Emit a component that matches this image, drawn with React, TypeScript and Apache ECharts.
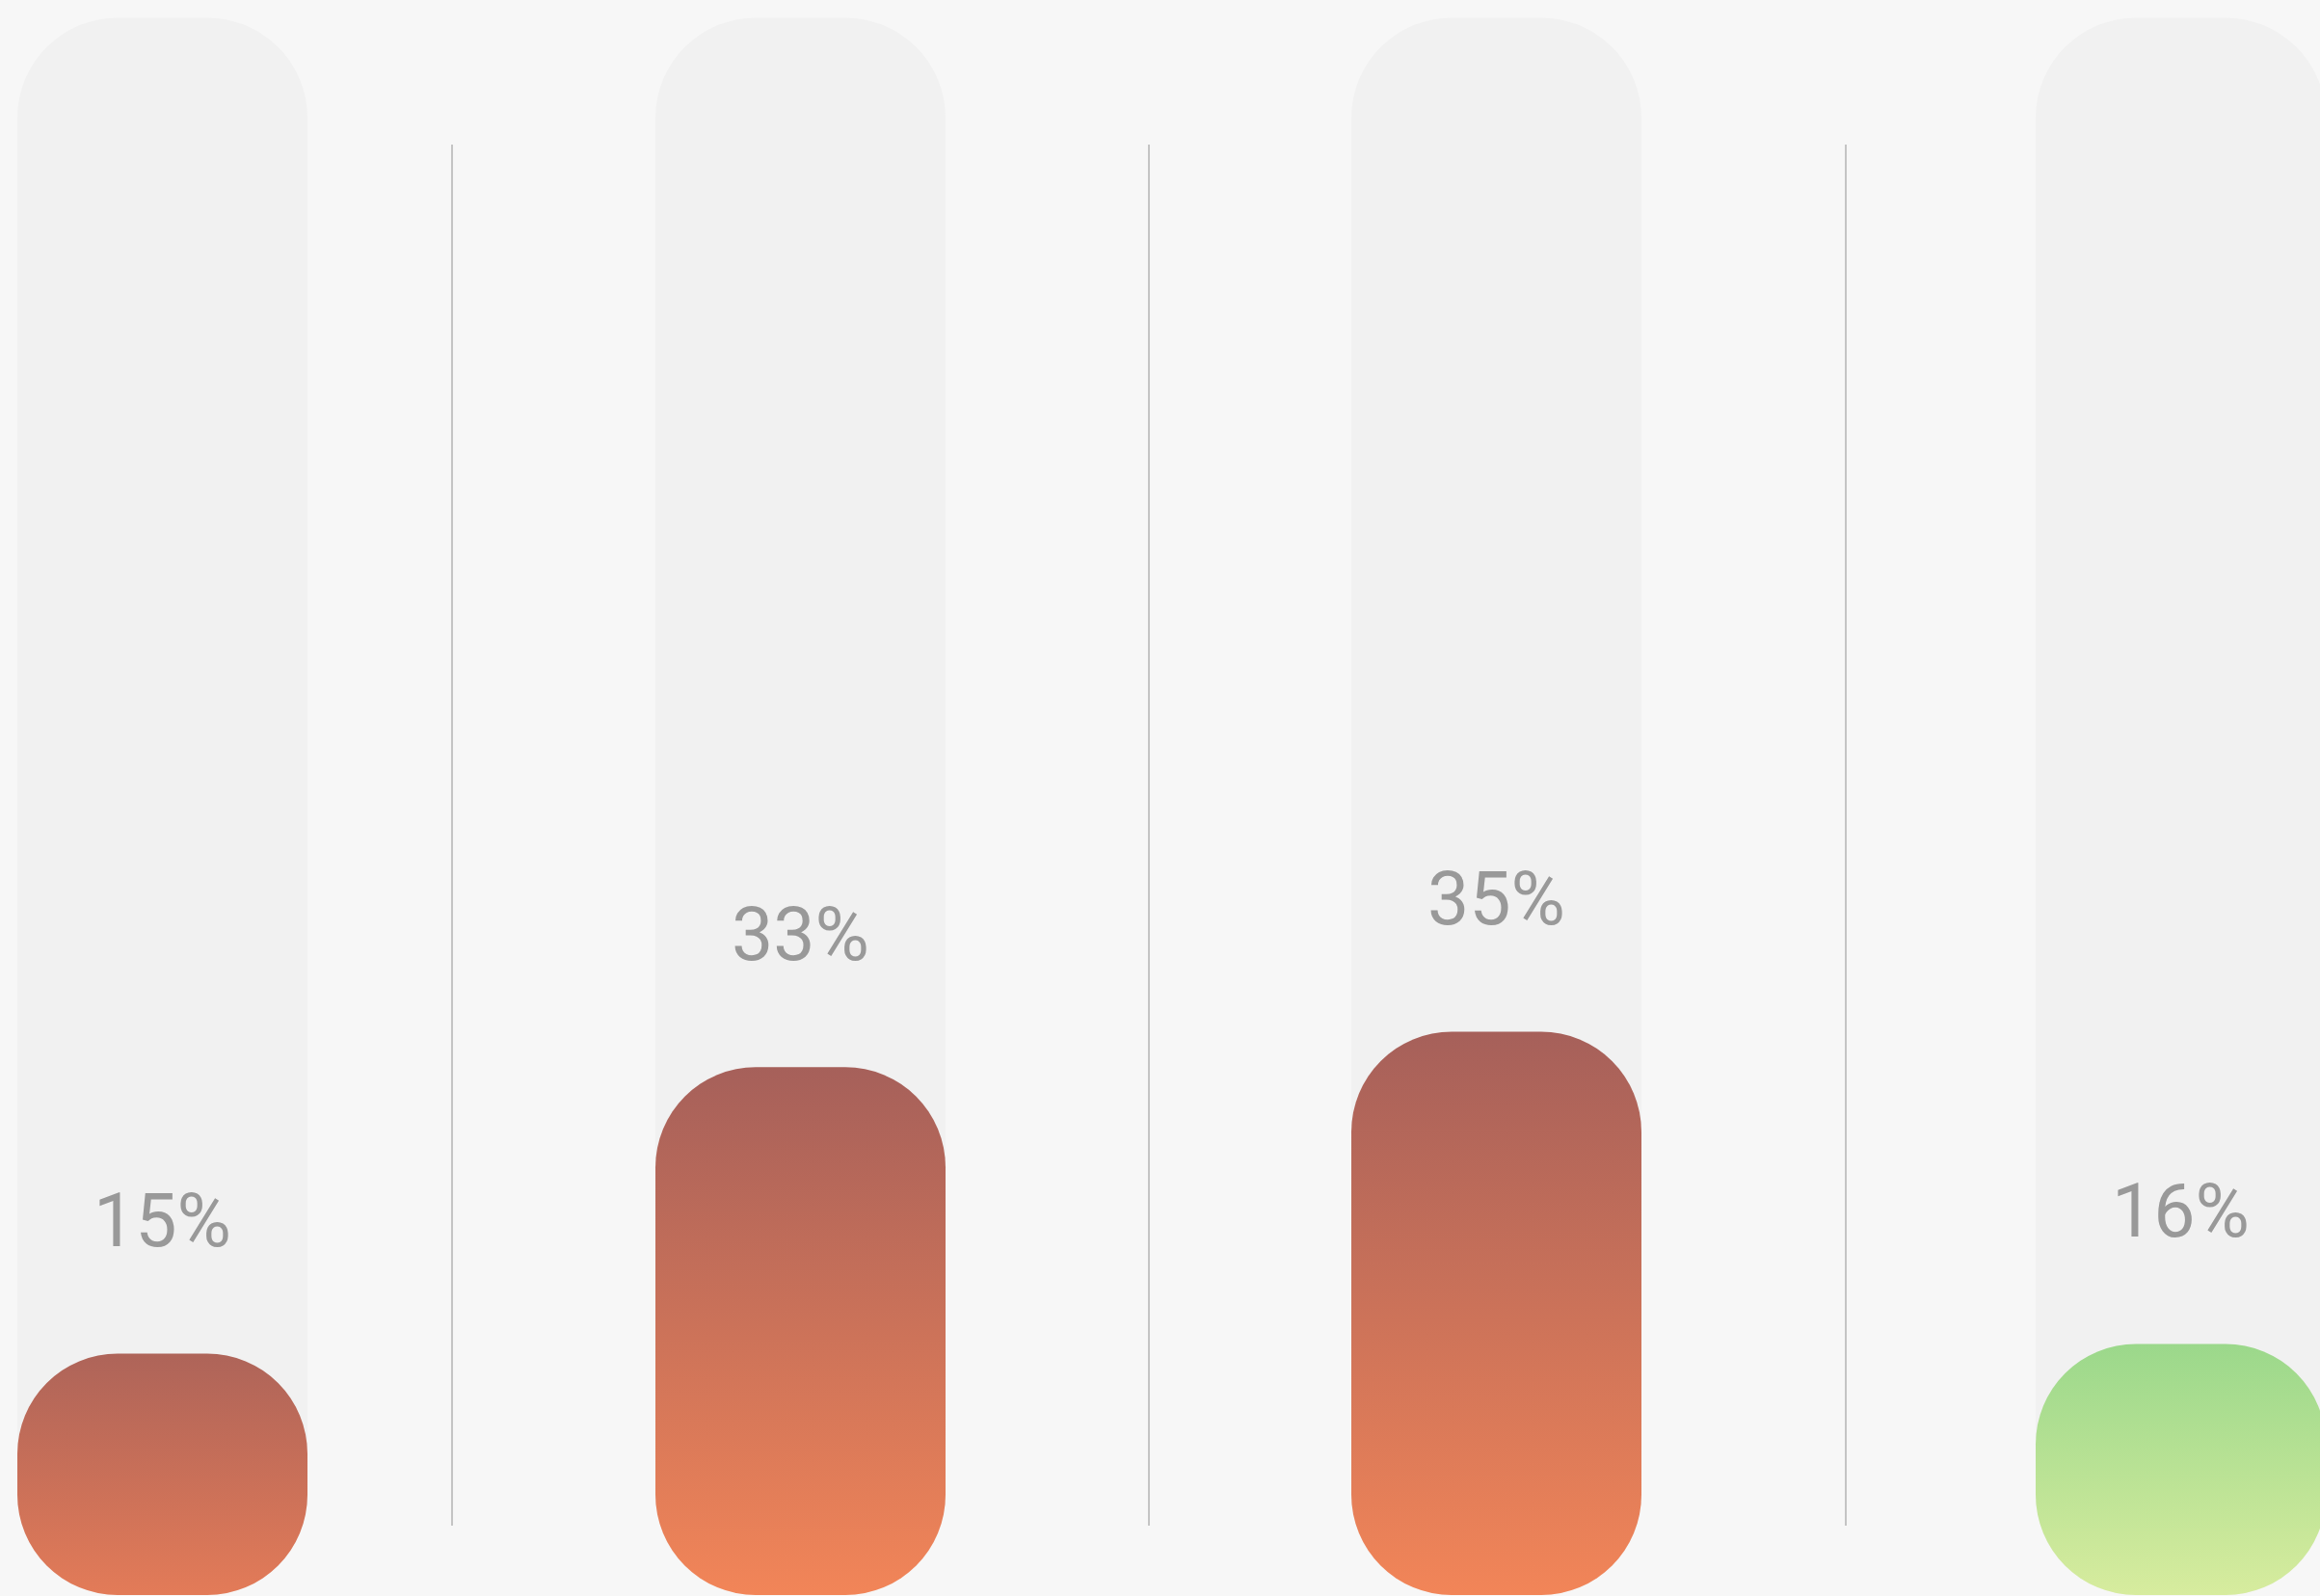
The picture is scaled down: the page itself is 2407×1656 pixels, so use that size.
import React, { useEffect, useRef } from "react";
import * as echarts from "echarts";

// ---- data ----
const categories = ["Item A", "Item B", "Item C", "Item D"];
const percentValues = [15.0, 32.8, 35.0, 15.6];
const trackValues = [98, 98, 98, 98];
const axisMax = 100;

// ---- layout / style ----
const WIDTH = 2407;
const HEIGHT = 1656;
const barLefts = [18, 680, 1402, 2112];
const barWidth = 301;
const radius = 104;
const barStops = [
  ["#ae6459", "#e37b58"],
  ["#a6605a", "#f28558"],
  ["#a6605a", "#f28558"],
  ["#9bd88b", "#d7ec9e"],
];

export default function App() {
  const ref = useRef<HTMLDivElement>(null);

  useEffect(() => {
    if (!ref.current) return;
    const chart = echarts.init(ref.current, null, { renderer: "svg" });

    const grids: any[] = [];
    const xAxes: any[] = [];
    const yAxes: any[] = [];
    const series: any[] = [];

    categories.forEach((cat, i) => {
      grids.push({
        left: barLefts[i],
        width: barWidth,
        top: -15,
        bottom: 1,
        outerBoundsMode: "none",
        containLabel: false,
      });
      xAxes.push({ type: "category", gridIndex: i, data: [cat], show: false });
      yAxes.push({ type: "value", gridIndex: i, min: 0, max: axisMax, show: false });
      series.push({
        type: "bar",
        xAxisIndex: i,
        yAxisIndex: i,
        data: [trackValues[i]],
        barWidth: "100%",
        barGap: "-100%",
        silent: true,
        clip: false,
        itemStyle: { color: "#f1f1f1", borderRadius: radius },
        z: 1,
      });
      series.push({
        type: "bar",
        xAxisIndex: i,
        yAxisIndex: i,
        data: [percentValues[i]],
        barWidth: "100%",
        barGap: "-100%",
        clip: false,
        itemStyle: {
          borderRadius: radius,
          color: new echarts.graphic.LinearGradient(0, 0, 0, 1, [
            { offset: 0, color: barStops[i][0] },
            { offset: 1, color: barStops[i][1] },
          ]),
        },
        label: {
          show: true,
          position: "top",
          distance: 99,
          fontFamily: "Roboto",
          fontSize: 77,
          color: "#999999",
          formatter: (p: any) => Math.round(p.value) + "%",
        },
        z: 2,
      });
    });

    // separator grid
    const sepIdx = categories.length;
    grids.push({
      left: -254,
      width: 2892,
      top: 150,
      bottom: 73,
      outerBoundsMode: "none",
      containLabel: false,
    });
    xAxes.push({
      type: "category",
      gridIndex: sepIdx,
      data: categories,
      boundaryGap: true,
      axisLine: { show: false },
      axisTick: { show: false },
      axisLabel: { show: false },
      splitLine: { show: true, lineStyle: { color: "#c4c4c4", width: 2 } },
    });
    yAxes.push({ type: "value", gridIndex: sepIdx, show: false, min: 0, max: axisMax });

    chart.setOption({
      animation: false,
      backgroundColor: "#f7f7f7",
      grid: grids,
      xAxis: xAxes,
      yAxis: yAxes,
      series,
    });

    return () => chart.dispose();
  }, []);

  return (
    <div
      ref={ref}
      style={{
        position: "fixed",
        left: 0,
        top: 0,
        width: WIDTH,
        height: HEIGHT,
        background: "#f7f7f7",
      }}
    />
  );
}
